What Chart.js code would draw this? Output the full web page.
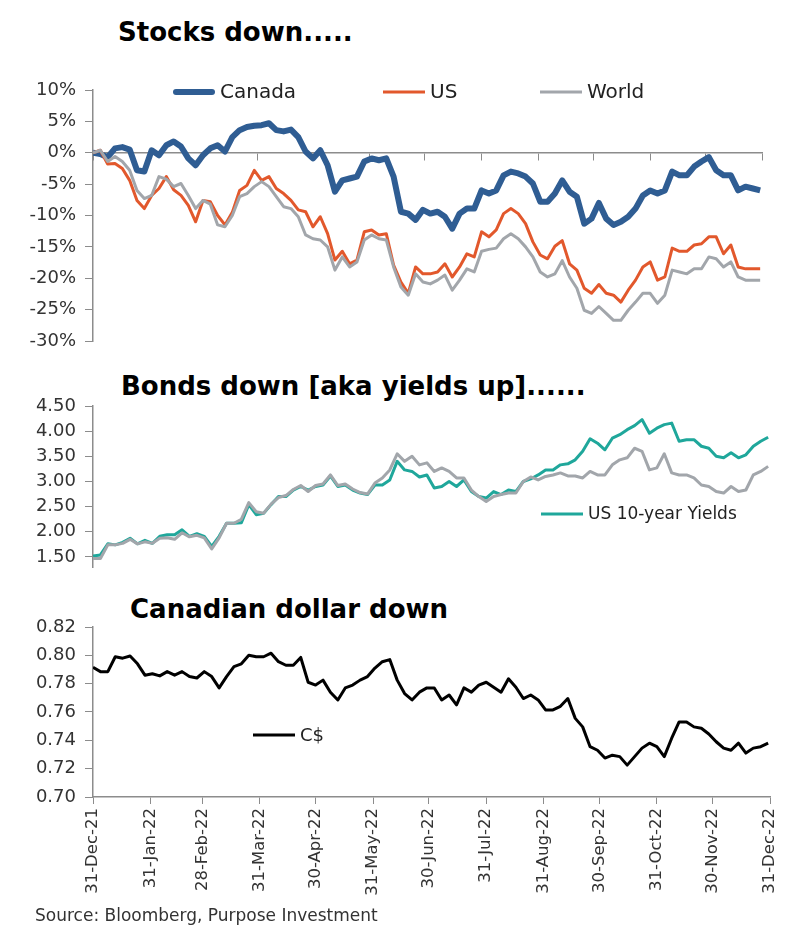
<!DOCTYPE html>
<html>
<head>
<meta charset="utf-8">
<script src="https://cdn.jsdelivr.net/npm/chart.js@4.4.1/dist/chart.umd.min.js"></script>
<style>
  body { margin: 0; background: #fff; width: 803px; height: 933px; overflow: hidden; position: relative; font-family: "DejaVu Sans", sans-serif; }
  .title { position: absolute; font-weight: bold; font-size: 26px; line-height: 1; color: #000; white-space: nowrap; }
  canvas { position: absolute; left: 0; }
  #source { position: absolute; left: 35px; top: 905px; font-size: 17px; color: #333; white-space: nowrap; }
</style>
</head>
<body>
<div class="title" style="left:118px; top:19px;">Stocks down.....</div>
<canvas id="stocks" width="803" height="290" style="top:70px"></canvas>
<div class="title" style="left:121px; top:373px;">Bonds down [aka yields up]......</div>
<canvas id="bonds" width="803" height="184" style="top:395px"></canvas>
<div class="title" style="left:130px; top:596px;">Canadian dollar down</div>
<canvas id="cad" width="803" height="300" style="top:615px"></canvas>
<div id="source">Source: Bloomberg, Purpose Investment</div>

<script>
// days since 31-Dec-21
const days = [0,4,8,12,16,20,24,28,32,36,40,44,48,52,56,60,64,68,72,76,80,84,88,92,96,100,104,108,112,116,120,124,128,132,136,140,144,148,152,156,160,164,168,172,176,180,184,188,192,196,200,204,208,212,216,220,224,228,232,236,240,244,248,252,256,260,264,268,272,276,280,284,288,292,296,300,304,308,312,316,320,324,328,332,336,340,344,348,352,356,360,364];

const monthDays = [0,31,59,90,120,151,181,212,243,273,304,334,365];
const monthLabels = ["31-Dec-21","31-Jan-22","28-Feb-22","31-Mar-22","30-Apr-22","31-May-22","30-Jun-22","31-Jul-22","31-Aug-22","30-Sep-22","31-Oct-22","30-Nov-22","31-Dec-22"];

// stock returns, %
const canada = [0,-0.2,-0.7,0.7,0.9,0.5,-2.8,-3.0,0.4,-0.4,
  1.2,1.8,1.0,-0.9,-2.0,-0.4,0.7,1.2,0.2,2.5,
  3.6,4.1,4.3,4.4,4.7,3.6,3.4,3.7,2.5,0.2,
  -0.9,0.4,-2.0,-6.2,-4.4,-4.1,-3.8,-1.4,-0.9,-1.2,
  -0.9,-3.8,-9.4,-9.7,-10.7,-9.1,-9.7,-9.4,-10.2,-12.1,
  -9.7,-8.9,-8.9,-6.0,-6.5,-6.0,-3.6,-3.0,-3.3,-3.8,
  -4.9,-7.8,-7.8,-6.5,-4.4,-6.2,-7.0,-11.3,-10.5,-8.0,
  -10.5,-11.5,-11.0,-10.2,-8.9,-6.8,-6.0,-6.5,-6.0,-3.0,
  -3.6,-3.6,-2.2,-1.4,-0.7,-2.8,-3.6,-3.6,-6.0,-5.4,
  -5.7,-6.0];
const us = [0,0.4,-1.8,-1.7,-2.5,-4.4,-7.6,-8.9,-6.8,-5.7,
  -3.8,-5.9,-6.8,-8.4,-11.0,-7.6,-7.8,-10.0,-11.5,-9.5,
  -6.0,-5.2,-2.8,-4.4,-3.8,-5.7,-6.5,-7.6,-9.1,-9.4,
  -11.8,-10.2,-12.9,-17.1,-15.7,-17.7,-17.1,-12.6,-12.3,-13.1,
  -12.9,-17.9,-20.6,-22.4,-18.2,-19.3,-19.3,-19.0,-17.7,-19.8,
  -18.2,-16.1,-16.6,-12.6,-13.4,-12.3,-9.7,-8.9,-9.7,-11.3,
  -14.2,-16.3,-16.9,-14.9,-14.0,-17.7,-18.7,-21.6,-22.4,-21.0,
  -22.4,-22.7,-23.8,-21.9,-20.3,-18.2,-17.4,-20.3,-19.8,-15.2,
  -15.7,-15.7,-14.7,-14.5,-13.4,-13.4,-16.1,-14.7,-18.2,-18.5,
  -18.5,-18.5];
const world = [0,0.4,-1.4,-0.6,-1.4,-2.8,-6.0,-7.3,-6.8,-3.8,
  -4.2,-5.4,-4.9,-6.8,-8.9,-7.6,-8.2,-11.5,-11.8,-10.0,
  -7.0,-6.5,-5.4,-4.6,-5.4,-7.0,-8.6,-8.9,-10.2,-13.1,
  -13.7,-13.9,-15.0,-18.7,-16.6,-18.2,-17.4,-13.9,-13.1,-13.7,
  -13.9,-18.2,-21.4,-22.7,-19.3,-20.6,-20.9,-20.3,-19.5,-21.9,
  -20.3,-18.5,-19.0,-15.7,-15.4,-15.2,-13.7,-12.9,-13.7,-15.0,
  -16.6,-19.0,-19.8,-19.3,-17.2,-19.8,-21.6,-25.1,-25.6,-24.5,
  -25.6,-26.7,-26.7,-25.1,-23.8,-22.4,-22.4,-24.0,-22.7,-18.7,
  -19.0,-19.3,-18.5,-18.5,-16.6,-16.9,-18.2,-17.4,-19.8,-20.3,
  -20.3,-20.3];

// 10-year yields
const us10y = [1.52,1.54,1.76,1.74,1.79,1.87,1.76,1.83,1.77,1.91,
  1.94,1.94,2.04,1.91,1.96,1.91,1.71,1.91,2.17,2.17,
  2.18,2.54,2.34,2.37,2.54,2.70,2.70,2.83,2.90,2.83,
  2.90,2.93,3.11,2.90,2.93,2.83,2.77,2.74,2.93,2.93,
  3.03,3.40,3.23,3.20,3.09,3.13,2.87,2.90,3.00,2.90,
  3.03,2.80,2.70,2.67,2.80,2.74,2.83,2.80,3.00,3.05,
  3.13,3.23,3.23,3.33,3.35,3.43,3.60,3.85,3.76,3.63,
  3.86,3.93,4.03,4.11,4.23,3.96,4.06,4.13,4.16,3.80,
  3.83,3.83,3.70,3.66,3.50,3.47,3.57,3.47,3.53,3.70,
  3.80,3.88];
const ca10y = [1.47,1.47,1.74,1.74,1.77,1.85,1.76,1.80,1.77,1.87,
  1.88,1.85,1.98,1.90,1.93,1.88,1.66,1.88,2.17,2.17,
  2.25,2.58,2.40,2.37,2.55,2.68,2.72,2.84,2.92,2.80,
  2.92,2.95,3.13,2.92,2.95,2.85,2.78,2.75,2.97,3.07,
  3.23,3.55,3.40,3.50,3.33,3.37,3.20,3.27,3.20,3.07,
  3.07,2.83,2.70,2.60,2.70,2.74,2.77,2.77,3.00,3.09,
  3.03,3.10,3.13,3.17,3.11,3.11,3.07,3.20,3.13,3.13,
  3.33,3.43,3.47,3.66,3.60,3.23,3.27,3.55,3.17,3.13,
  3.13,3.07,2.93,2.90,2.80,2.77,2.90,2.80,2.83,3.13,
  3.20,3.30];

// USD per CAD
const cad = [0.7915,0.7885,0.7885,0.799,0.798,0.7995,0.794,0.786,0.787,0.7855,
  0.7885,0.786,0.7885,0.785,0.784,0.7885,0.785,0.777,0.785,0.792,
  0.794,0.800,0.799,0.799,0.8015,0.7955,0.793,0.793,0.7985,0.781,
  0.779,0.7825,0.774,0.7685,0.777,0.779,0.7825,0.785,0.791,0.7955,
  0.797,0.7825,0.773,0.7685,0.774,0.777,0.777,0.7685,0.772,0.765,
  0.777,0.774,0.779,0.781,0.7775,0.774,0.7835,0.7775,0.7695,0.772,
  0.7685,0.7615,0.7615,0.764,0.7695,0.7555,0.7495,0.7355,0.733,0.7275,
  0.7295,0.7285,0.7225,0.7285,0.7345,0.738,0.7355,0.7285,0.7415,0.753,
  0.753,0.7495,0.7485,0.7445,0.739,0.7345,0.733,0.738,0.731,0.7345,
  0.7355,0.738];

const stockTicks = [-30,-25,-20,-15,-10,-5,0,5,10];
const bondTicks = [1.5,2.0,2.5,3.0,3.5,4.0,4.5];
const cadTicks = [0.70,0.72,0.74,0.76,0.78,0.80,0.82];

Chart.defaults.font.family = '"DejaVu Sans", sans-serif';
Chart.defaults.color = '#333';
Chart.defaults.animation = false;

const axisGray = '#8c8c8c';

const toPoints = (vals) => days.map((d, i) => ({ x: d, y: vals[i] }));

// legend drawn inside the plot, like the excel original
const inlineLegend = {
  id: 'inlineLegend',
  afterDraw(chart, args, opts) {
    const ctx = chart.ctx;
    const area = chart.chartArea;
    (opts.items || []).forEach(item => {
      const ds = chart.data.datasets[item.index];
      const x = area.left + item.dx;
      const y = area.top + item.dy;
      ctx.save();
      ctx.strokeStyle = ds.borderColor;
      ctx.lineWidth = ds.borderWidth;
      ctx.lineCap = item.round ? 'round' : 'butt';
      ctx.beginPath();
      ctx.moveTo(x + (item.round ? 3 : 0), y);
      ctx.lineTo(x + 42 - (item.round ? 3 : 0), y);
      ctx.stroke();
      ctx.fillStyle = '#222';
      ctx.font = item.size + 'px "DejaVu Sans"';
      ctx.textBaseline = 'middle';
      ctx.fillText(ds.label, x + 47, y + 1);
      ctx.restore();
    });
  }
};

function yAxis(ticks, min, max, fmt) {
  return {
    min: min,
    max: max,
    afterBuildTicks: s => { s.ticks = ticks.map(v => ({ value: v })); },
    afterFit: s => {
      s.width = 93;
      // layout padding alone decides where the plot starts
      s.paddingTop = 0;
      s.paddingBottom = 0;
    },
    grid: { drawOnChartArea: false, drawTicks: true, tickLength: 8, color: axisGray },
    border: { color: axisGray, width: 1.5 },
    ticks: { padding: 9, font: { size: 18 }, color: '#333', callback: fmt }
  };
}

function monthAxis() {
  return {
    type: 'linear',
    min: 0,
    max: 365,
    afterBuildTicks: s => { s.ticks = monthDays.map(v => ({ value: v })); },
    grid: { drawOnChartArea: false, drawTicks: true, tickLength: 7, color: axisGray },
    border: { color: axisGray, width: 1.5 }
  };
}

function line(label, vals, color, width, order) {
  return {
    label: label,
    data: toPoints(vals),
    borderColor: color,
    borderWidth: width,
    pointRadius: 0,
    tension: 0,
    borderJoinStyle: 'round',
    order: order
  };
}

// Stocks
const stocksX = monthAxis();
stocksX.position = { y: 0 };
stocksX.ticks = { display: false };
new Chart(document.getElementById('stocks'), {
  type: 'line',
  data: {
    datasets: [
      line('Canada', canada, '#2f5d93', 6, 2),
      line('US', us, '#e2582c', 3, 1),
      line('World', world, '#a2a6ab', 3, 0)
    ]
  },
  options: {
    responsive: false,
    layout: { padding: { top: 20, bottom: 19, left: 0, right: 41 } },
    scales: {
      x: stocksX,
      y: yAxis(stockTicks, -30, 10, v => v + '%')
    },
    plugins: {
      legend: { display: false },
      tooltip: { enabled: false },
      inlineLegend: { items: [
        { index: 0, dx: 80, dy: 2, size: 20, round: true },
        { index: 1, dx: 290, dy: 2, size: 20 },
        { index: 2, dx: 447, dy: 2, size: 20 }
      ] }
    }
  },
  plugins: [inlineLegend]
});

// Bonds
const bondsX = monthAxis();
bondsX.display = false;
new Chart(document.getElementById('bonds'), {
  type: 'line',
  data: {
    datasets: [
      line('US 10-year Yields', us10y, '#1fa79b', 3, 1),
      line('Canada 10-year Yields', ca10y, '#a2a6ab', 3, 0)
    ]
  },
  options: {
    responsive: false,
    layout: { padding: { top: 11, bottom: 12, left: 0, right: 33 } },
    scales: {
      x: bondsX,
      y: yAxis(bondTicks, 1.3, 4.5, v => v.toFixed(2))
    },
    plugins: {
      legend: { display: false },
      tooltip: { enabled: false },
      inlineLegend: { items: [ { index: 0, dx: 448, dy: 108, size: 17 } ] }
    }
  },
  plugins: [inlineLegend]
});

// Canadian dollar
const cadX = monthAxis();
cadX.afterFit = s => { s.height = 118; };
cadX.ticks = {
  autoSkip: false,
  minRotation: 90,
  maxRotation: 90,
  padding: 4,
  font: { size: 16.5 },
  color: '#333',
  callback: (v, i) => monthLabels[i]
};
new Chart(document.getElementById('cad'), {
  type: 'line',
  data: {
    datasets: [ line('C$', cad, '#000000', 3, 0) ]
  },
  options: {
    responsive: false,
    layout: { padding: { top: 12, bottom: 0, left: 0, right: 33 } },
    scales: {
      x: cadX,
      y: yAxis(cadTicks, 0.70, 0.82, v => v.toFixed(2))
    },
    plugins: {
      legend: { display: false },
      tooltip: { enabled: false },
      inlineLegend: { items: [ { index: 0, dx: 160, dy: 108, size: 18 } ] }
    }
  },
  plugins: [inlineLegend]
});
</script>
</body>
</html>
